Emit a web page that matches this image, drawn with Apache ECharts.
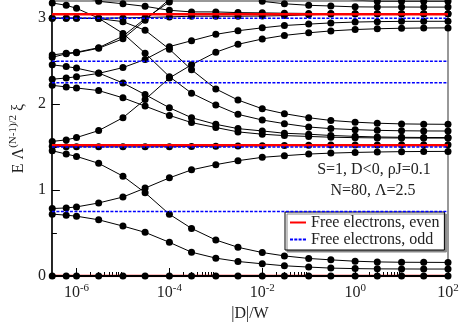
<!DOCTYPE html>
<html>
<head>
<meta charset="utf-8">
<script src="https://cdn.jsdelivr.net/npm/echarts@6/dist/echarts.min.js"></script>
<style>
  html, body { margin: 0; padding: 0; background: #fff; }
  #chart { width: 463px; height: 327px; }
</style>
</head>
<body>
<div id="chart"></div>
<script>
// |D|/W sample points
const dValues = [3e-7, 6e-7, 1e-6, 3e-6, 1e-5, 3e-5, 1e-4, 3e-4, 1e-3, 3e-3, 1e-2, 3e-2, 0.1, 0.3, 1, 3, 10, 30, 100];

// NRG levels, one array per flow line
const level0 = [0, 0, 0, 0, 0, 0, 0, 0, 0, 0, 0, 0, 0, 0, 0, 0, 0, 0, 0];
const levelA = [0.72, 0.708, 0.696, 0.654, 0.581, 0.508, 0.392, 0.277, 0.208, 0.169, 0.142, 0.119, 0.104, 0.092, 0.086, 0.083, 0.082, 0.081, 0.081];
const levelB = [0.785, 0.792, 0.804, 0.85, 0.919, 1.023, 1.142, 1.235, 1.296, 1.342, 1.381, 1.4, 1.419, 1.43, 1.438, 1.443, 1.447, 1.449, 1.45];
const levelC = [1.458, 1.419, 1.392, 1.311, 1.162, 0.969, 0.719, 0.554, 0.419, 0.334, 0.273, 0.234, 0.204, 0.188, 0.172, 0.164, 0.16, 0.159, 0.158];
const levelF = [1.51, 1.505, 1.505, 1.503, 1.503, 1.503, 1.505, 1.507, 1.51, 1.513, 1.516, 1.519, 1.521, 1.523, 1.524, 1.525, 1.526, 1.526, 1.526];
const levelR2 = [1.566, 1.584, 1.611, 1.692, 1.842, 2.054, 2.304, 2.458, 2.604, 2.696, 2.758, 2.8, 2.83, 2.852, 2.868, 2.877, 2.883, 2.886, 2.887];
const levelR1 = [2.29, 2.304, 2.319, 2.358, 2.425, 2.52, 2.669, 2.738, 2.812, 2.854, 2.888, 2.915, 2.931, 2.945, 2.955, 2.96, 2.963, 2.964, 2.964];
const levelD1 = [3.0, 3.0, 3.0, 2.995, 2.96, 2.86, 2.64, 2.4, 2.177, 2.048, 1.946, 1.889, 1.842, 1.81, 1.79, 1.778, 1.77, 1.767, 1.765];
const levelP1 = [3.177, 3.15, 3.115, 3.0, 2.823, 2.593, 2.32, 2.127, 1.99, 1.881, 1.815, 1.773, 1.734, 1.715, 1.703, 1.695, 1.69, 1.688, 1.687];
const levelD3 = [2.457, 2.438, 2.419, 2.362, 2.246, 2.111, 1.958, 1.842, 1.765, 1.715, 1.688, 1.661, 1.65, 1.635, 1.625, 1.618, 1.614, 1.612, 1.611];
const levelD4 = [2.219, 2.2, 2.188, 2.158, 2.073, 1.977, 1.869, 1.785, 1.728, 1.677, 1.65, 1.634, 1.624, 1.615, 1.61, 1.607, 1.606, 1.605, 1.605];
const levelP3 = [3.0, 3.0, 3.0, 3.0, 3.003, 3.008, 3.015, 3.023, 3.023, 3.023, 3.025, 3.03, 3.04, 3.048, 3.051, 3.052, 3.053, 3.053, 3.053];
const levelP4 = [3.34, 3.3, 3.26, 3.196, 3.168, 3.138, 3.092, 3.073, 3.073, 3.065, 3.062, 3.058, 3.055, 3.054, 3.053, 3.053, 3.053, 3.053, 3.053];
const levelP2 = [2.572, 2.593, 2.604, 2.657, 2.79, 2.996, 3.188, 3.34, 3.4, 3.33, 3.196, 3.168, 3.15, 3.142, 3.132, 3.13, 3.13, 3.129, 3.129];
const levelP2b = [2.545, 2.585, 2.598, 2.65, 2.76, 2.975, 3.22, 3.42, 3.52, 3.5, 3.42, 3.34, 3.28, 3.24, 3.21, 3.198, 3.198, 3.198, 3.198];

// free electron reference levels
const evenLevels = [0, 1.522, 3.045];
const oddLevels = [0.75, 1.5, 2.25, 2.5, 3.0];

// axis ticks
const xTickExps = [-6, -4, -2, 0, 2];
const yTickValues = [0, 1, 2, 3];
const yMinorValues = [0.5, 1.5, 2.5];

const X_MIN = -6.53, X_MAX = 2, Y_MIN = 0, Y_MAX = 3.2;
const FONT = '"Liberation Serif", "DejaVu Serif", serif';

// minor log ticks: 2..9 x 10^n after each labelled decade
const xMinorTicks = [];
xTickExps.forEach(function (e) {
  for (let k = 2; k <= 9; k++) {
    const v = e + Math.log10(k);
    if (v < X_MAX) xMinorTicks.push(v);
  }
});

const logX = dValues.map(function (d) { return Math.log10(d); });

const flowLevels = [level0, levelA, levelB, levelC, levelF, levelR2, levelR1,
  levelD1, levelP1, levelD3, levelD4, levelP3, levelP4, levelP2, levelP2b];

const series = [];

flowLevels.forEach(function (lv, i) {
  series.push({
    name: 'flow' + i,
    type: 'line',
    data: lv.map(function (v, j) { return [logX[j], v]; }),
    symbol: 'circle',
    symbolSize: 7,
    itemStyle: { color: '#000' },
    // ground state line sits on top of the red E=0 line
    lineStyle: { color: '#000', width: i === 0 ? 2 : 1 },
    clip: true,
    z: 2
  });
});

evenLevels.forEach(function (v) {
  series.push({
    name: 'Free electrons, even',
    type: 'line',
    data: [[X_MIN, v], [X_MAX, v]],
    symbol: 'none',
    itemStyle: { color: '#ff0000' },
    lineStyle: { color: '#ff0000', width: 2.5 },
    z: v === 0 ? 1 : 3
  });
});

oddLevels.forEach(function (v) {
  series.push({
    name: 'Free electrons, odd',
    type: 'line',
    data: [[X_MIN, v], [X_MAX, v]],
    symbol: 'none',
    itemStyle: { color: '#0000ff' },
    lineStyle: { color: '#0000ff', width: 1.5, type: [3, 1.5] },
    z: 4
  });
});

// legend samples: solid red bar, dashed blue bar
const ICON_EVEN = 'rect';
const ICON_ODD = 'path://M0,0h3v2h-3z M4.3,0h3v2h-3z M8.6,0h3v2h-3z M12.9,0h3.1v2h-3.1z';

const chart = echarts.init(document.getElementById('chart'));

chart.setOption({
  animation: false,
  backgroundColor: '#fff',
  grid: {
    left: 50, right: 15, top: 1, bottom: 49,
    show: true,
    borderColor: '#777',
    borderWidth: 1.5,
    backgroundColor: 'transparent'
  },
  xAxis: [
    {
      type: 'value',
      min: X_MIN, max: X_MAX,
      position: 'bottom',
      axisLine: { onZero: false, lineStyle: { color: '#000', width: 1.5 } },
      axisTick: { inside: true, length: 8, customValues: xTickExps, lineStyle: { color: '#000' } },
      splitLine: { show: false },
      axisLabel: {
        customValues: xTickExps,
        margin: 7,
        formatter: function (v) { return '{b|10}{s|' + v + '}'; },
        rich: {
          b: { fontFamily: FONT, fontSize: 16, color: '#222', verticalAlign: 'bottom' },
          s: { fontFamily: FONT, fontSize: 11, color: '#222', verticalAlign: 'bottom', padding: [0, 0, 7, 0] }
        }
      },
      name: '|D|/W',
      nameLocation: 'middle',
      nameGap: 30,
      nameTextStyle: { fontFamily: FONT, fontSize: 16, color: '#222' }
    },
    {
      type: 'value',
      min: X_MIN, max: X_MAX,
      position: 'bottom',
      axisLine: { show: false, onZero: false },
      axisTick: { inside: true, length: 4, customValues: xMinorTicks, lineStyle: { color: '#000' } },
      axisLabel: { show: false },
      splitLine: { show: false }
    }
  ],
  yAxis: [
    {
      type: 'value',
      min: Y_MIN, max: Y_MAX,
      position: 'left',
      axisLine: { onZero: false, lineStyle: { color: '#000', width: 1.5 } },
      axisTick: { inside: true, length: 8, customValues: yTickValues, lineStyle: { color: '#000' } },
      splitLine: { show: false },
      axisLabel: {
        customValues: yTickValues,
        margin: 6,
        fontFamily: FONT, fontSize: 16, color: '#222'
      },
      name: '{n|E Λ}{s|(N-1)/2}{n| ξ}',
      nameLocation: 'middle',
      nameRotate: 90,
      nameGap: 16,
      nameTextStyle: {
        rich: {
          n: { fontFamily: FONT, fontSize: 16, color: '#222', verticalAlign: 'bottom' },
          s: { fontFamily: FONT, fontSize: 11, color: '#222', verticalAlign: 'bottom', padding: [0, 0, 8, 0] }
        }
      }
    },
    {
      type: 'value',
      min: Y_MIN, max: Y_MAX,
      position: 'left',
      axisLine: { show: false, onZero: false },
      axisTick: { inside: true, length: 5, customValues: yMinorValues, lineStyle: { color: '#000' } },
      axisLabel: { show: false },
      splitLine: { show: false }
    }
  ],
  legend: {
    data: [
      { name: 'Free electrons, even', icon: ICON_EVEN },
      { name: 'Free electrons, odd', icon: ICON_ODD }
    ],
    orient: 'vertical',
    left: 285, top: 212,
    padding: [2, 5, 2, 5],
    itemGap: 0,
    itemWidth: 16,
    itemHeight: 2,
    textStyle: { fontFamily: FONT, fontSize: 16, color: '#222', lineHeight: 17 },
    backgroundColor: '#fff',
    borderColor: '#000',
    borderWidth: 1,
    borderRadius: 0,
    shadowColor: '#888',
    shadowOffsetX: 2,
    shadowOffsetY: 2,
    shadowBlur: 0
  },
  graphic: [
    {
      type: 'text', x: 374, y: 170, z: 10,
      style: { text: 'S=1, D<0, ρJ=0.1', font: '16px ' + FONT, fill: '#222', align: 'center', verticalAlign: 'middle' }
    },
    {
      type: 'text', x: 373, y: 191, z: 10,
      style: { text: 'N=80, Λ=2.5', font: '16px ' + FONT, fill: '#222', align: 'center', verticalAlign: 'middle' }
    }
  ],
  series: series
});
</script>
</body>
</html>
